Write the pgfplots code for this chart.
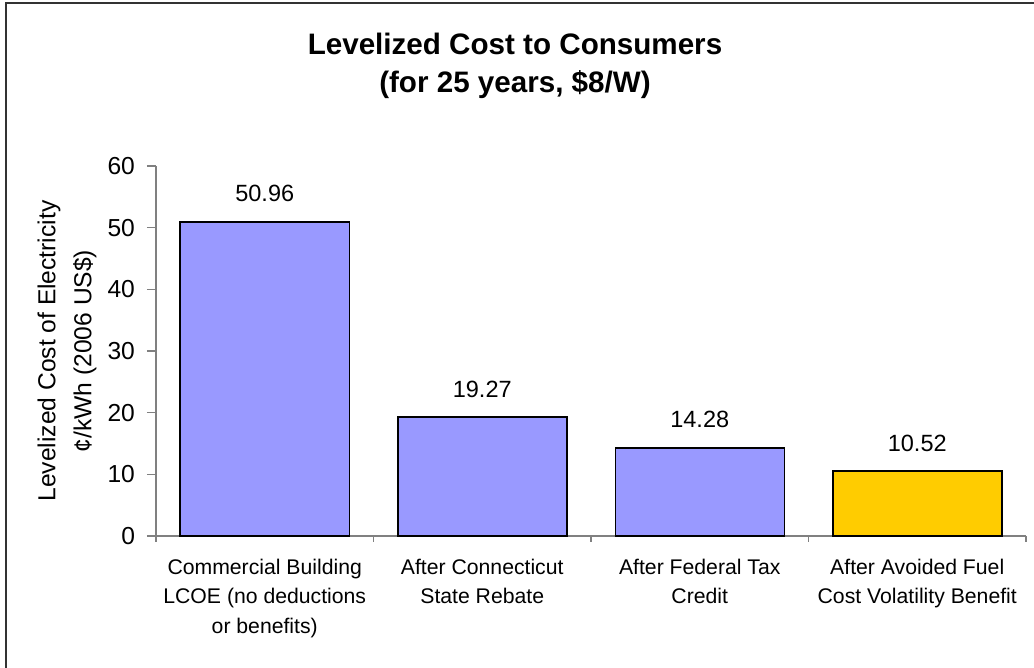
\documentclass[border=0pt]{standalone}
\usepackage{pgfplots}
\pgfplotsset{compat=1.18}
\usepackage{fontspec}
\setmainfont{Liberation Sans}
\definecolor{barblue}{HTML}{9999FF}
\definecolor{baryellow}{HTML}{FFCC00}
\definecolor{axgray}{HTML}{808080}
\begin{document}
\begin{tikzpicture}
\path[use as bounding box] (0,0) rectangle (517pt,334pt);
\draw[line width=1.1pt, black!80] (3pt,-5pt) -- (3pt,332.6pt) -- (525pt,332.6pt);
\node[font=\fontsize{14.8}{17}\selectfont\bfseries, anchor=base, inner sep=0pt] at (257.5pt,306.5pt) {Levelized Cost to Consumers};
\node[font=\fontsize{14.8}{17}\selectfont\bfseries, anchor=base, inner sep=0pt] at (257.5pt,287.5pt) {(for 25 years, \$8/W)};
\begin{axis}[
  at={(78pt,66pt)}, anchor=south west,
  scale only axis, width=435pt, height=185pt,
  xmin=-0.5, xmax=3.5, ymin=0, ymax=60,
  axis lines*=left,
  axis line style={draw=axgray, line width=0.6pt},
  /pgf/number format/assume math mode=true,
  ytick={0,10,...,60},
  xtick={0,1,2,3},
  xticklabels={{Commercial Building\\LCOE (no deductions\\or benefits)},{After Connecticut\\State Rebate},{After Federal Tax\\Credit},{After Avoided Fuel\\Cost Volatility Benefit}},
  minor xtick={-0.5,0.5,1.5,2.5,3.5},
  tick align=outside,
  major tick length=4.5pt, minor tick length=3pt,
  tick style={draw=axgray, line width=0.6pt},
  major x tick style={draw=none},
  yticklabel style={font=\fontsize{12.3}{14}\selectfont, xshift=-2.5pt},
  xticklabel style={align=center, font=\fontsize{10.6}{14.75}\selectfont, yshift=-3.5pt},
  ylabel={Levelized Cost of Electricity\\¢/kWh (2006 US\$)},
  ylabel style={align=center, font=\fontsize{12.3}{18}\selectfont, at={(axis description cs:-0.068,0.5)}, anchor=south, inner sep=0pt},
  nodes near coords={\pgfmathprintnumber[fixed,fixed zerofill,precision=2]{\pgfplotspointmeta}},
  nodes near coords style={font=\fontsize{11.75}{14}\selectfont, anchor=base, yshift=10pt, text=black},
  clip=false,
]
\addplot[ybar, bar shift=0pt, bar width=84.5pt, fill=barblue, draw=black, line width=0.75pt] coordinates {(0,50.96) (1,19.27) (2,14.28)};
\addplot[ybar, bar shift=0pt, bar width=84.5pt, fill=baryellow, draw=black, line width=0.75pt] coordinates {(3,10.52)};
\end{axis}
\end{tikzpicture}
\end{document}
